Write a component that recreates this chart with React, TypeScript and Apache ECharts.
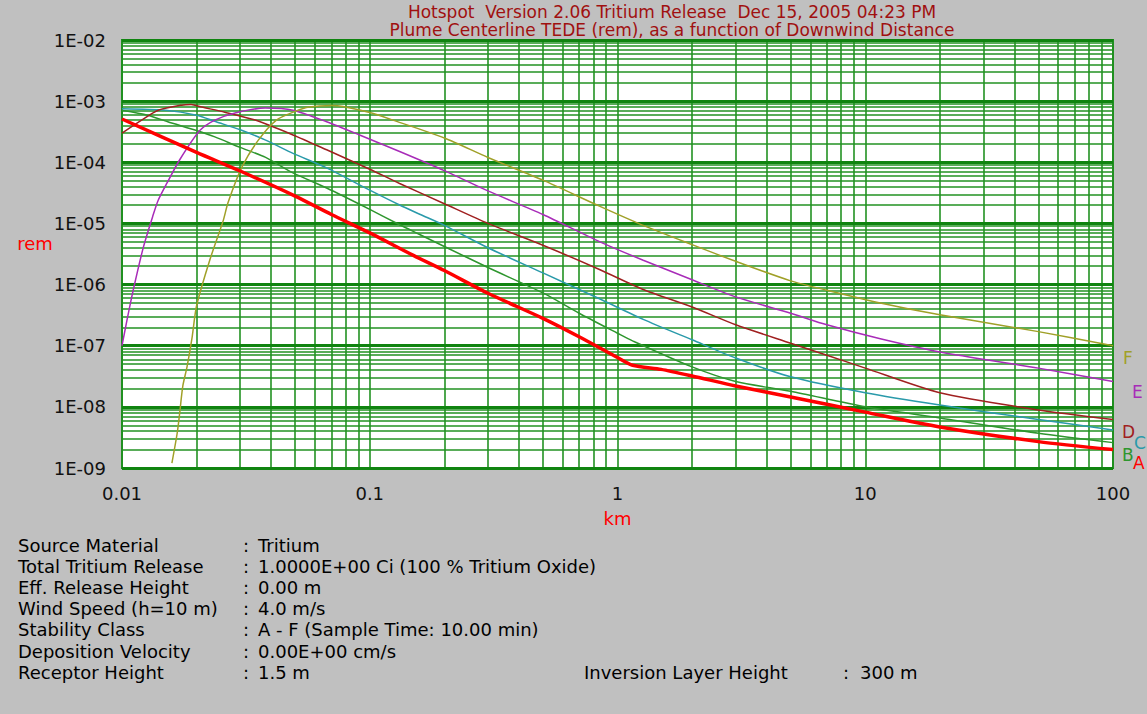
import React, { useEffect, useRef } from "react";
import * as echarts from "echarts";

const FONT = "'DejaVu Sans', 'Liberation Sans', Arial, sans-serif";

const titleLines = [
  "Hotspot  Version 2.06 Tritium Release  Dec 15, 2005 04:23 PM",
  "Plume Centerline TEDE (rem), as a function of Downwind Distance",
];

const xTickLabels = ["0.01", "0.1", "1", "10", "100"];
const yTickLabels = ["1E-09", "1E-08", "1E-07", "1E-06", "1E-05", "1E-04", "1E-03", "1E-02"];

const seriesNames = ["A", "B", "C", "D", "E", "F"];
const seriesColors = ["#ff0000", "#2e962e", "#2a9aaa", "#a02020", "#a82cb8", "#a0a028"];

// Stability class A
const distA = [0.01, 0.02, 0.03, 0.05, 0.07, 0.1, 0.15, 0.2, 0.3, 0.5, 0.7, 1, 1.15, 1.5, 2, 3, 5, 10, 20, 50, 100];
const doseA = [5.1e-4, 1.45e-4, 7.2e-5, 2.8e-5, 1.4e-5, 7e-6, 3.0e-6, 1.7e-6, 7.2e-7, 2.8e-7, 1.4e-7, 6.4e-8, 4.8e-8, 4.1e-8, 3.2e-8, 2.2e-8, 1.45e-8, 8.2e-9, 4.7e-9, 2.7e-9, 2.0e-9];
// Stability class B
const distB = [0.01, 0.0127, 0.0153, 0.02, 0.0237, 0.03, 0.038, 0.049, 0.067, 0.1, 0.132, 0.159, 0.2, 0.3, 0.5, 0.7, 1, 1.15, 2, 3, 5, 10, 20, 50, 100];
const doseB = [7.1e-4, 5.9e-4, 4.6e-4, 3.3e-4, 2.6e-4, 1.75e-4, 1.2e-4, 6.7e-5, 3.8e-5, 1.7e-5, 9.5e-6, 6.6e-6, 4.2e-6, 1.9e-6, 7.3e-7, 3.4e-7, 1.6e-7, 1.2e-7, 4.5e-8, 2.6e-8, 1.8e-8, 1.0e-8, 6.6e-9, 3.7e-9, 2.6e-9];
// Stability class C
const distC = [0.01, 0.015, 0.02, 0.024, 0.03, 0.038, 0.049, 0.067, 0.1, 0.132, 0.16, 0.2, 0.3, 0.5, 0.85, 1.27, 2, 3, 5, 10, 20, 50, 100];
const doseC = [7.5e-4, 7.1e-4, 5.9e-4, 4.6e-4, 3.4e-4, 2.3e-4, 1.4e-4, 8.1e-5, 3.5e-5, 2.0e-5, 1.4e-5, 9.3e-6, 4.0e-6, 1.55e-6, 5.8e-7, 2.7e-7, 1.25e-7, 6.3e-8, 3.1e-8, 1.7e-8, 1.07e-8, 6.2e-9, 4.2e-9];
// Stability class D
const distD = [0.01, 0.012, 0.014, 0.0174, 0.019, 0.021, 0.026, 0.0345, 0.049, 0.067, 0.1, 0.132, 0.2, 0.3, 0.5, 0.85, 1.27, 2, 3, 5, 7, 10, 20, 50, 100];
const doseD = [3e-4, 4.9e-4, 7.1e-4, 8.6e-4, 8.8e-4, 8.0e-4, 6.6e-4, 4.9e-4, 2.8e-4, 1.6e-4, 7.7e-5, 4.5e-5, 2.1e-5, 1.0e-5, 4.4e-6, 1.75e-6, 8.3e-7, 4.3e-7, 2.2e-7, 1.1e-7, 7e-8, 4.3e-8, 1.7e-8, 8.9e-9, 6.2e-9];
// Stability class E
const distE = [0.01, 0.01047, 0.0111, 0.0122, 0.0133, 0.014, 0.0152, 0.0171, 0.0206, 0.0237, 0.0286, 0.0378, 0.049, 0.067, 0.091, 0.132, 0.2, 0.3, 0.5, 0.85, 1.27, 2, 3, 5, 7, 11.5, 20, 50, 100];
const doseE = [1e-7, 2.6e-7, 8.1e-7, 4.1e-6, 1.3e-5, 2.4e-5, 4.6e-5, 1.1e-4, 3.3e-4, 4.9e-4, 6.4e-4, 7.7e-4, 7.1e-4, 4.6e-4, 2.8e-4, 1.5e-4, 7.3e-5, 3.4e-5, 1.4e-5, 5e-6, 2.5e-6, 1.2e-6, 6.3e-7, 3.4e-7, 2.2e-7, 1.3e-7, 7.9e-8, 4.3e-8, 2.6e-8];
// Stability class F
const distF = [0.0159, 0.0167, 0.0171, 0.0176, 0.0183, 0.0192, 0.02, 0.0226, 0.0256, 0.0268, 0.0305, 0.0355, 0.042, 0.05, 0.057, 0.07, 0.078, 0.1, 0.124, 0.2, 0.3, 0.5, 0.85, 1.27, 2, 3, 5, 7, 11.5, 20, 50, 100];
const doseF = [1.2e-9, 3.7e-9, 8e-9, 2.2e-8, 4.5e-8, 1.4e-7, 4.5e-7, 2.5e-6, 1.1e-5, 2.2e-5, 8.4e-5, 2.3e-4, 4.9e-4, 6.8e-4, 8.0e-4, 8.5e-4, 8.2e-4, 6.5e-4, 4.9e-4, 2.5e-4, 1.2e-4, 5.1e-5, 1.9e-5, 9.3e-6, 4.5e-6, 2.4e-6, 1.15e-6, 8.1e-7, 5e-7, 3.2e-7, 1.7e-7, 1.0e-7];

const distances = [distA, distB, distC, distD, distE, distF];
const doses = [doseA, doseB, doseC, doseD, doseE, doseF];
const lineWidths = [3.5, 1.5, 1.5, 1.5, 1.5, 1.5];
const endLabelOffsets = [[12, 13], [1, 12], [13, 13], [1, 12], [11, 11], [2, 12]];

const infoLabels = [
  "Source Material",
  "Total Tritium Release",
  "Eff. Release Height",
  "Wind Speed (h=10 m)",
  "Stability Class",
  "Deposition Velocity",
  "Receptor Height",
];
const infoValues = [
  "Tritium",
  "1.0000E+00 Ci (100 % Tritium Oxide)",
  "0.00 m",
  "4.0 m/s",
  "A - F (Sample Time: 10.00 min)",
  "0.00E+00 cm/s",
  "1.5 m",
];
const extraLabel = "Inversion Layer Height";
const extraValue = "300 m";

const X_MIN = 0.01;
const X_MAX = 100;
const Y_MIN = 1e-9;
const Y_MAX = 1e-2;

// log grid lines (1..9 x each decade)
const xGrid: { v: number; major: boolean }[] = [];
for (let e = -2; e <= 2; e++) {
  for (let m = 1; m <= 9; m++) {
    const v = m * Math.pow(10, e);
    if (v <= X_MAX * 1.0001) xGrid.push({ v, major: m === 1 });
  }
}
const yGrid: { v: number; major: boolean }[] = [];
for (let e = -9; e <= -2; e++) {
  for (let m = 1; m <= 9; m++) {
    const v = m * Math.pow(10, e);
    if (v <= Y_MAX * 1.0001) yGrid.push({ v, major: m === 1 });
  }
}

const GRID_GREEN = "#229222";

export default function App() {
  const ref = useRef<HTMLDivElement>(null);
  useEffect(() => {
    if (!ref.current) return;
    const chart = echarts.init(ref.current, undefined, { renderer: "svg" });

    const gridMarks: any[] = [];
    xGrid.forEach((g) =>
      gridMarks.push([
        { coord: [g.v, Y_MIN], lineStyle: { width: 1.6, color: GRID_GREEN, type: "solid" } },
        { coord: [g.v, Y_MAX] },
      ])
    );
    yGrid.forEach((g) =>
      gridMarks.push([
        {
          coord: [X_MIN, g.v],
          lineStyle: { width: g.major ? 3 : 1.6, color: g.major ? "#108410" : GRID_GREEN, type: "solid" },
        },
        { coord: [X_MAX, g.v] },
      ])
    );

    const curveSeries = seriesNames.map((name, i) => ({
      name,
      type: "line",
      data: distances[i].map((d, j) => [d, doses[i][j]]),
      showSymbol: false,
      symbol: "none",
      smooth: 0.25,
      z: i === 0 ? 10 : 5,
      lineStyle: { color: seriesColors[i], width: lineWidths[i] },
      itemStyle: { color: seriesColors[i] },
      endLabel: {
        show: true,
        formatter: name,
        color: seriesColors[i],
        fontSize: 17,
        fontFamily: FONT,
        distance: 8,
        offset: endLabelOffsets[i],
      },
      silent: true,
    }));

    const txt = (x: number, y: number, text: string, fill = "#000", align = "left", size = 18) => ({
      type: "text",
      x,
      y,
      silent: true,
      style: { text, fill, fontSize: size, fontFamily: FONT, textAlign: align, textVerticalAlign: "middle" },
    });

    const graphics: any[] = [];
    titleLines.forEach((t, i) => graphics.push(txt(672, 12 + i * 18, t, "#a01010", "center", 17)));
    graphics.push(txt(35, 243, "rem", "#ff0000", "center"));
    infoLabels.forEach((t, i) => {
      const y = 545 + i * 21.2;
      graphics.push(txt(18, y, t));
      graphics.push(txt(243, y, ":"));
      graphics.push(txt(258, y, infoValues[i]));
    });
    const yLast = 545 + 6 * 21.2;
    graphics.push(txt(584, yLast, extraLabel));
    graphics.push(txt(843, yLast, ":"));
    graphics.push(txt(860, yLast, extraValue));

    chart.setOption({
      animation: false,
      backgroundColor: "#c0c0c0",
      grid: {
        left: 122,
        right: 34,
        top: 40,
        bottom: 246,
        show: true,
        backgroundColor: "#ffffff",
        borderColor: "#1a8a1a",
        borderWidth: 2,
      },
      xAxis: {
        type: "log",
        logBase: 10,
        min: X_MIN,
        max: X_MAX,
        splitNumber: 4,
        axisLine: { show: false },
        axisTick: { show: false },
        splitLine: { show: false },
        axisLabel: {
          color: "#111",
          fontSize: 18,
          fontFamily: FONT,
          margin: 16,
          formatter: (v: number) => xTickLabels[Math.round(Math.log10(v)) + 2] ?? "",
        },
        name: "km",
        nameLocation: "middle",
        nameGap: 41,
        nameTextStyle: { color: "#ff0000", fontSize: 18, fontFamily: FONT },
      },
      yAxis: {
        type: "log",
        logBase: 10,
        min: Y_MIN,
        max: Y_MAX,
        splitNumber: 7,
        axisLine: { show: false },
        axisTick: { show: false },
        splitLine: { show: false },
        axisLabel: {
          color: "#111",
          fontSize: 18,
          fontFamily: FONT,
          margin: 16,
          formatter: (v: number) => yTickLabels[Math.round(Math.log10(v)) + 9] ?? "",
        },
      },
      series: [
        {
          type: "line",
          name: "grid",
          data: [],
          z: 1,
          silent: true,
          markLine: {
            silent: true,
            symbol: ["none", "none"],
            label: { show: false },
            animation: false,
            lineStyle: { type: "solid" },
            data: gridMarks,
          },
        },
        ...curveSeries,
      ],
      graphic: graphics,
    });
    return () => chart.dispose();
  }, []);
  return (
    <div
      ref={ref}
      style={{ position: "fixed", left: 0, top: 0, width: 1147, height: 714, background: "#c0c0c0" }}
    />
  );
}
